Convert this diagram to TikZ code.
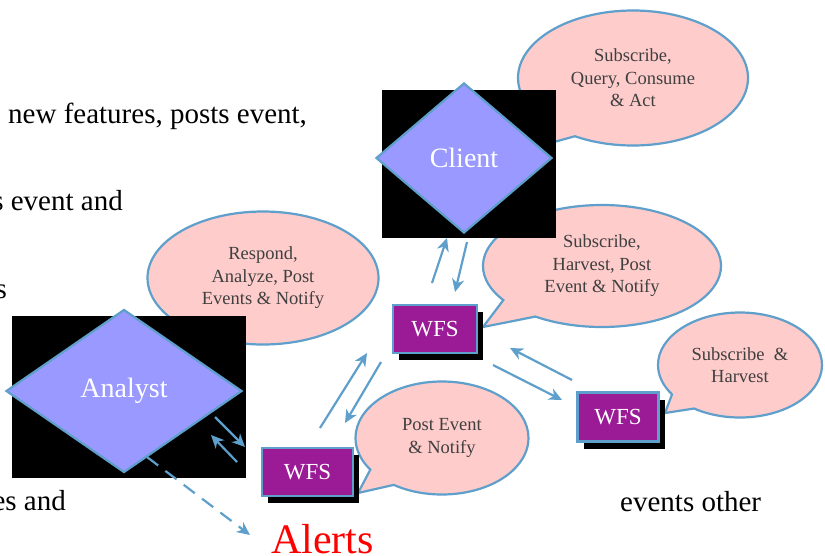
\documentclass[tikz,border=0pt]{standalone}
\usepackage{fontspec}
\setmainfont{Liberation Serif}
\usetikzlibrary{shapes.geometric,shapes.callouts,arrows.meta,shadows}
\definecolor{edgeblue}{HTML}{5E9FCB}
\definecolor{dia}{HTML}{9999FF}
\definecolor{wfs}{HTML}{9B1A96}
\definecolor{bub}{HTML}{FFCCCC}
\definecolor{bubtext}{HTML}{3F3F3F}
\begin{document}
\begin{tikzpicture}[x=1pt,y=-1pt,
  bubble/.style={ellipse callout, draw=edgeblue, line width=2.2pt, fill=bub, text=bubtext,
    align=center, font=\fontsize{18.5}{22.5}\selectfont, inner sep=0pt, callout pointer arc=22},
  wfsbox/.style={rectangle, draw=edgeblue, line width=2.2pt, fill=wfs, text=white,
    font=\fontsize{23}{26}\selectfont, inner sep=0pt,
    general shadow={fill=black, shadow xshift=6pt, shadow yshift=-7pt}},
  dnode/.style={diamond, draw=edgeblue, line width=2.2pt, fill=dia, text=white,
    font=\fontsize{28}{32}\selectfont, inner sep=0pt},
  blackbox/.style={fill=black},
  conn/.style={draw=edgeblue, line width=2.2pt, -{Stealth[length=13pt,width=12pt,inset=4pt]}},
  body/.style={font=\fontsize{29}{34}\selectfont, inner sep=0pt, text=black}]
\clip (0,0) rectangle (825,555);
\fill[white] (0,0) rectangle (825,555);

% body text
\node[body, anchor=base west] (t1) at (8,123) {new features, posts event,};
\node[body, anchor=base east] (t2) at (123,210) {s event and};
\node[body, anchor=base east] (t3) at (7,298) {s};
\node[body, anchor=base east] (t4) at (66,510) {es and};
\node[body, anchor=base west] (t5) at (620,511) {events other};
\node[inner sep=0pt, anchor=base west, text=red, font=\fontsize{42}{46}\selectfont] (alerts) at (271,553) {Alerts};

% pointer tips
\coordinate (p1) at (525,150);
\coordinate (p2) at (200,362);
\coordinate (p3) at (483,327);
\coordinate (p4) at (358,493);
\coordinate (p5) at (665,413);

% callouts
\node[bubble, minimum width=230pt, minimum height=135pt, callout absolute pointer={(p1)}] (b1) at (633,78)
  {Subscribe,\\Query, Consume\\\& Act};
\node[bubble, minimum width=231pt, minimum height=133pt, callout absolute pointer={(p2)}] (b2) at (263,278)
  {Respond,\\Analyze, Post\\Events \& Notify};
\node[bubble, minimum width=238pt, minimum height=122pt, callout absolute pointer={(p3)}] (b3) at (602,266)
  {Subscribe,\\Harvest, Post\\Event \& Notify};
\node[bubble, minimum width=173pt, minimum height=113pt, callout absolute pointer={(p4)}] (b4) at (442,438)
  {Post Event\\\& Notify};
\node[bubble, minimum width=164pt, minimum height=105pt, callout absolute pointer={(p5)}] (b5) at (740,365)
  {Subscribe~~\&\\Harvest};

% client and analyst
\fill[blackbox] (382,90) rectangle (556,238);
\node[dnode, minimum width=176pt, minimum height=150pt] (client) at (464,158) {Client};
\fill[blackbox] (12,316) rectangle (246,478);
\node[dnode, minimum width=236pt, minimum height=163pt] (analyst) at (124,391) {Analyst};

% WFS boxes
\node[wfsbox, minimum width=84pt, minimum height=48pt] (w1) at (435,329) {WFS};
\node[wfsbox, minimum width=91pt, minimum height=48pt] (w2) at (307.5,472) {WFS};
\node[wfsbox, minimum width=81pt, minimum height=49pt] (w3) at (618,417) {WFS};

% connector end points
\coordinate (a1s) at (432,283); \coordinate (a1e) at (447,238);
\coordinate (a2s) at (467,242); \coordinate (a2e) at (455,292);
\coordinate (a3s) at (320,428); \coordinate (a3e) at (367,353);
\coordinate (a4s) at (381,362); \coordinate (a4e) at (345,423);
\coordinate (a5s) at (572,380); \coordinate (a5e) at (510,348);
\coordinate (a6s) at (493,365); \coordinate (a6e) at (562,400);
\coordinate (a7s) at (215,417); \coordinate (a7e) at (245,447);
\coordinate (a8s) at (237,462); \coordinate (a8e) at (211,435);
\coordinate (a9s) at (147,457); \coordinate (a9e) at (250,535);

\draw[conn] (a1s) -- (a1e);
\draw[conn] (a2s) -- (a2e);
\draw[conn] (a3s) -- (a3e);
\draw[conn] (a4s) -- (a4e);
\draw[conn] (a5s) -- (a5e);
\draw[conn] (a6s) -- (a6e);
\draw[conn] (a7s) -- (a7e);
\draw[conn] (a8s) -- (a8e);
\draw[conn, dash pattern=on 14pt off 9pt] (a9s) -- (a9e);
\end{tikzpicture}
\end{document}
